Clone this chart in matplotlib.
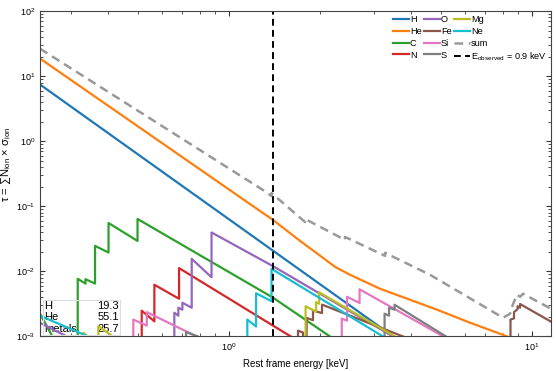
import numpy as np
import matplotlib.pyplot as plt
from matplotlib.patches import Rectangle

plt.rcParams['font.family'] = ['Liberation Sans', 'DejaVu Sans']
plt.rcParams['mathtext.fontset'] = 'custom'
plt.rcParams['mathtext.rm'] = 'Liberation Sans'
plt.rcParams['mathtext.it'] = 'Liberation Sans:italic'

nan = np.nan

# energies in keV (rest frame), optical depth tau
H_E = [0.2377, 3.80]
H_tau = [7.46, 0.00075]

He_E = [0.2377, 1.397, 1.716, 2.043, 2.238, 2.508, 3.150, 3.957, 4.859, 6.243, 8.145, 9.0]
He_tau = [18.7, 0.0617, 0.02943, 0.01615, 0.01175, 0.00887, 0.00542, 0.00367, 0.00258,
          0.00163, 0.00103, 0.00085]

C_E = [0.2377, 0.2650, nan, 0.3167, 0.3167, 0.336, 0.336, 0.3612, 0.3612,
       0.4002, 0.4002, 0.4989, 0.4989, 1.397, 2.154, 2.4]
C_tau = [0.00224, 0.00089, nan, 1e-4, 0.0077, 0.0065, 0.0076, 0.0065, 0.0247,
         0.0195, 0.0555, 0.0294, 0.064, 0.00395, 0.00100, 0.0007]

N_E = [0.515, 0.515, 0.567, 0.567, 0.6839, 0.6839, 1.397, 1.778]
N_tau = [1e-4, 0.00249, 0.00171, 0.00624, 0.0038, 0.01125, 0.00147, 0.00074]

O_E = [0.2377, 0.316, nan, 0.6598, 0.6598, 0.6804, 0.6804, 0.7014, 0.7014,
       0.7531, 0.7531, 0.8754, 0.8754, 1.400, 2.022, 3.477, 3.8]
O_tau = [0.00162, 0.00083, nan, 1e-4, 0.00232, 0.00209, 0.00277, 0.00258, 0.0033,
         0.00277, 0.0156, 0.00813, 0.0397, 0.01197, 0.00439, 0.00100, 0.00079]

Fe_E = [1.689, 1.689, 1.755, 1.755, nan, 1.803, 1.803, 1.893, 1.893, 2.027, 2.027,
        3.752, 3.98, nan, 8.49, 8.49, 8.72, 8.72, 8.96, 8.96, 9.13, 9.13, 11.55]
Fe_tau = [1e-4, 0.00123, 0.00115, 1e-4, nan, 1e-4, 0.00193, 0.00178, 0.00251, 0.00229, 0.00309,
          0.00100, 0.0009, nan, 1e-4, 0.00182, 0.0019, 0.00237, 0.00263, 0.00292, 0.00277,
          0.00316, 0.00169]

Si_E = [0.4831, 0.4831, 0.5351, 0.5351, 0.782, 0.832, nan,
        2.355, 2.355, 2.452, 2.452, 2.696, 2.696, 5.096, 5.495]
Si_tau = [1e-4, 0.00182, 0.00147, 0.00237, 0.00100, 0.00087, nan,
          1e-4, 0.00188, 0.00175, 0.00408, 0.00327, 0.00532, 0.00100, 0.00082]

S_E = [0.7213, 0.7213, 0.790, 0.81, nan, 3.261, 3.261, 3.373, 3.373, 3.517, 3.517, 5.202, 5.6]
S_tau = [1e-4, 0.00117, 0.00100, 0.00088, nan, 1e-4, 0.00224, 0.00209, 0.00277, 0.00258,
         0.00308, 0.00100, 0.00081]

Mg_E = [0.3304, 0.3304, 0.353, nan, 0.3704, 0.3704, 0.4142, 0.4205, nan,
        1.789, 1.789, 1.937, 1.937, 1.982, 1.982, 3.53, 3.8]
Mg_tau = [1e-4, 0.00114, 0.00089, nan, 1e-4, 0.00144, 0.00100, 0.00089, nan,
          1e-4, 0.00292, 0.0024, 0.00337, 0.00319, 0.00479, 0.00100, 0.00082]

Ne_E = [0.2377, 0.3425, 0.36, nan, 1.149, 1.149, 1.228, 1.228, 1.381, 1.381, 3.223, 3.5]
Ne_tau = [0.00209, 0.00100, 0.000905, nan, 1e-4, 0.00182, 0.00142, 0.00462, 0.00348,
          0.01096, 0.00100, 0.00079]

sum_E = [0.2377, 1.295, 1.381, 1.381, 1.782, 1.782, 2.414, 2.414, 3.273, 3.273,
         4.607, 8.02, 8.46, 8.656, 8.923, 9.13, 9.34, 11.55]
sum_tau = [26.5, 0.178, 0.144, 0.16, 0.0575, 0.064, 0.0305, 0.0339, 0.01734, 0.0193,
           0.00887, 0.001945, 0.00224, 0.00316, 0.00439, 0.00407, 0.00454, 0.00267]

E_obs = 0.9
z = 0.552

table_rows = ['H', 'He', 'metals']
table_vals = ['19.3', '55.1', '25.7']

series = [('H', H_E, H_tau, 'tab:blue'),
          ('He', He_E, He_tau, 'tab:orange'),
          ('C', C_E, C_tau, 'tab:green'),
          ('N', N_E, N_tau, 'tab:red'),
          ('O', O_E, O_tau, 'tab:purple'),
          ('Fe', Fe_E, Fe_tau, 'tab:brown'),
          ('Si', Si_E, Si_tau, 'tab:pink'),
          ('S', S_E, S_tau, 'tab:gray'),
          ('Mg', Mg_E, Mg_tau, 'tab:olive'),
          ('Ne', Ne_E, Ne_tau, 'tab:cyan')]

fig = plt.figure(figsize=(5.56, 3.71), dpi=100)
ax = fig.add_axes([0.0719, 0.093, 0.9191, 0.877])

for name, e, t, c in series:
    ax.plot(e, t, color=c, lw=1.6, label=name)
ax.plot(sum_E, sum_tau, color='#999999', lw=1.8, ls=(0, (3.5, 2.2)), label='sum')
ax.axvline(E_obs * (1 + z), color='black', lw=1.4, ls=(0, (3.5, 2.2)),
           label=r'E$_{\rm observed}$ = 0.9 keV')

ax.set_xscale('log')
ax.set_yscale('log')
ax.set_xlim(0.2377, 11.55)
ax.set_ylim(1e-3, 1e2)
ax.set_xlabel('Rest frame energy [keV]', fontsize=7)
ax.set_ylabel(r'τ = ∑N$_{\rm ion}$ × σ$_{\rm ion}$', fontsize=8)
ax.yaxis.set_label_coords(-0.052, 0.53)
ax.tick_params(which='both', direction='in', top=True, right=True, labelsize=6.5,
               color='#333333')
for sp in ax.spines.values():
    sp.set_color('#444444')
    sp.set_linewidth(0.8)

ax.legend(ncol=3, loc='upper right', frameon=False, fontsize=6.6, handlelength=1.75,
          handletextpad=0.1, columnspacing=0.25, labelspacing=0.3,
          borderaxespad=0.25, borderpad=0.2)

tb = ax.table(cellText=[[r, v] for r, v in zip(table_rows, table_vals)],
              bbox=[0.006, 0.005, 0.151, 0.107], edges='open')
for (i, j), cell in tb.get_celld().items():
    cell.set_facecolor((1, 1, 1, 0.6))
    cell.set_text_props(fontsize=8, ha='left' if j == 0 else 'right')
    cell.PAD = 0.03
tb.auto_set_font_size(False)
ax.add_patch(Rectangle((0.006, 0.005), 0.151, 0.107, transform=ax.transAxes,
                       fill=False, ec='#dddddd', lw=0.8, zorder=5))

fig.savefig('out.png', dpi=100)
